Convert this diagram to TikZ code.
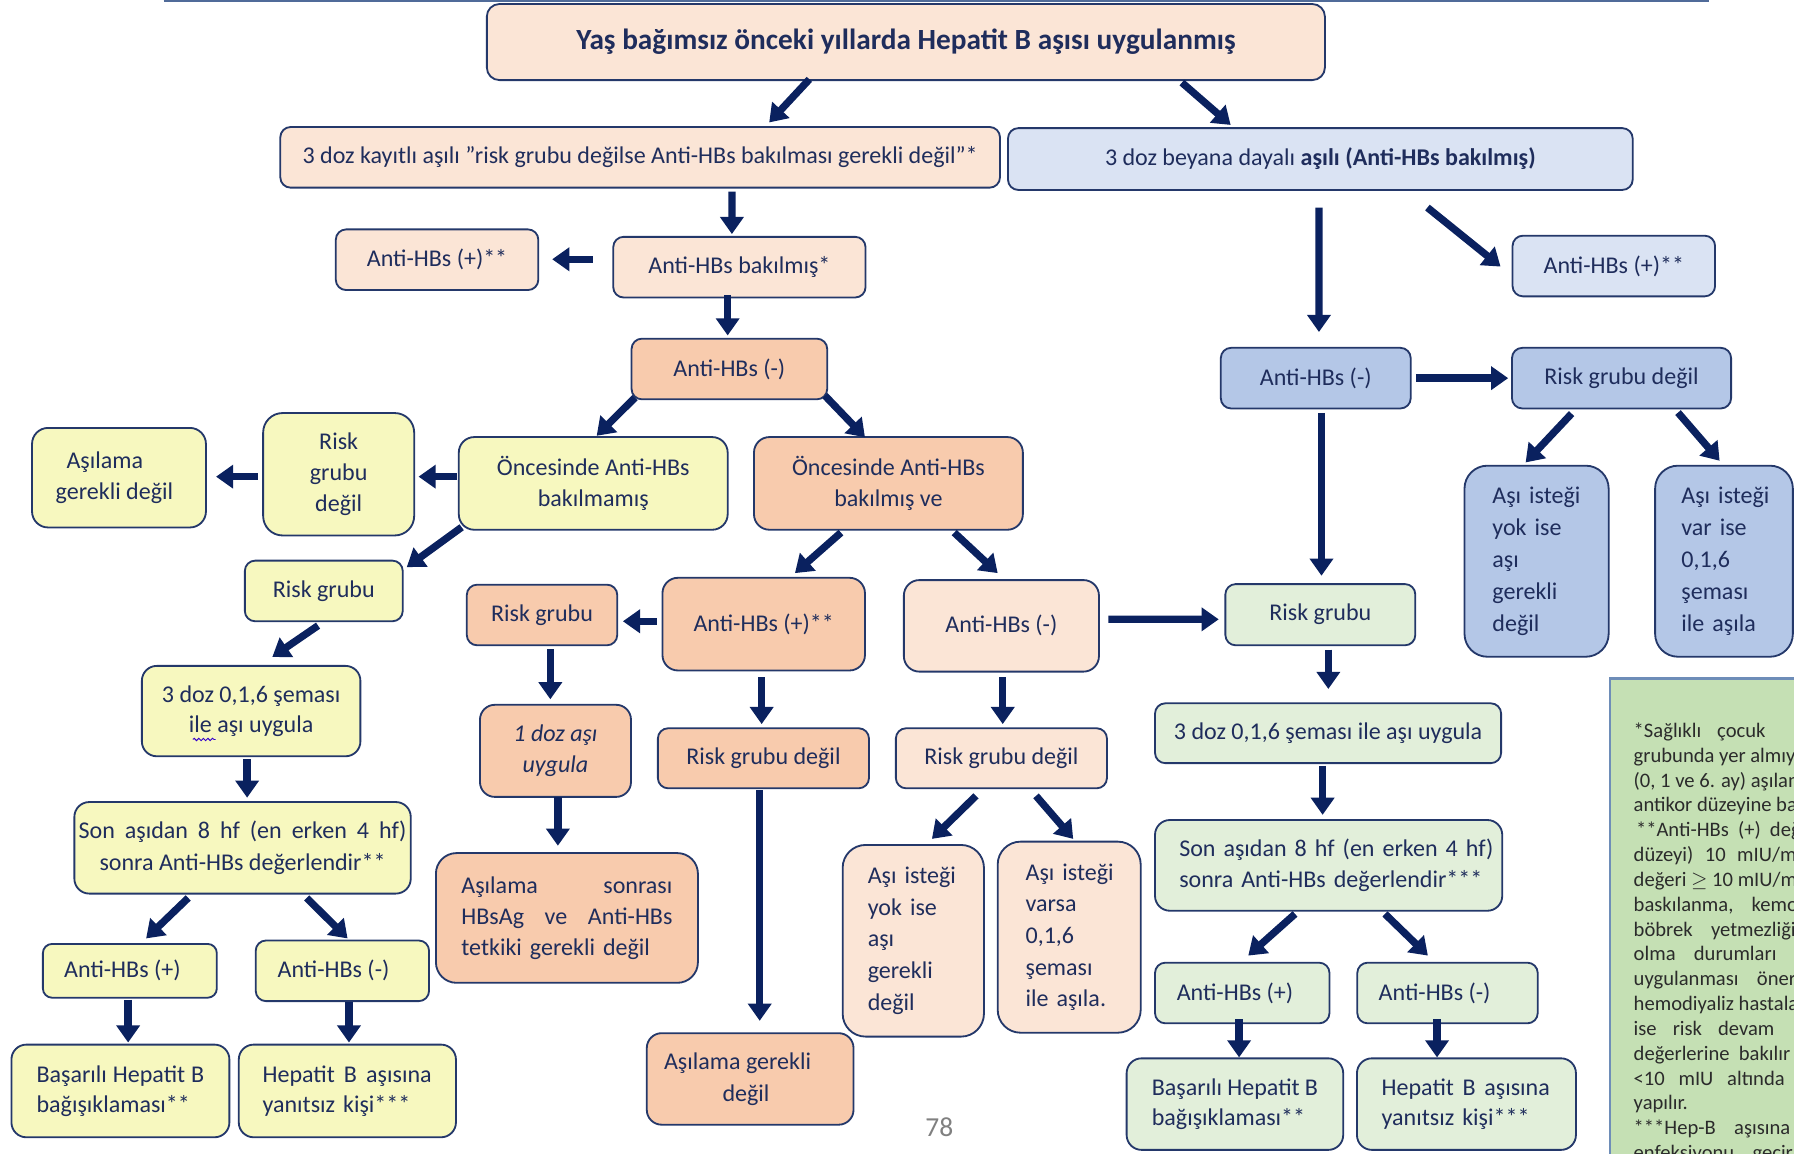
\documentclass[tikz,border=0pt]{standalone}
\usepackage{fontspec}
\setmainfont{Carlito}
\usetikzlibrary{arrows.meta,calc,decorations.pathmorphing}
\definecolor{bcol}{HTML}{24386A}
\definecolor{acol}{HTML}{0A215F}
\definecolor{tcol}{HTML}{1F2D5C}
\definecolor{salL}{HTML}{FBE5D6}
\definecolor{salD}{HTML}{F8CBAD}
\definecolor{yel}{HTML}{F7F8BF}
\definecolor{bluL}{HTML}{DAE3F3}
\definecolor{bluM}{HTML}{B4C7E7}
\definecolor{grnL}{HTML}{E2EFDA}
\definecolor{grnN}{HTML}{C5E0B4}
\definecolor{noteb}{HTML}{6E8DB8}
\definecolor{notet}{HTML}{2B2B2B}
\newcommand\fsz[1]{\fontsize{10.5pt}{#1}\selectfont}
\newcommand\myarr[4]{\draw[arr] ($(#1)+(#2)$) -- ($(#3)+(#4)$);}
\begin{document}
\begin{tikzpicture}[x=0.5pt,y=-0.5pt,
  box/.style={draw=bcol, line width=0.8pt, text=tcol, inner sep=0pt, align=center, font=\fsz{13.8pt}},
  lbox/.style={box, align=left},
  arr/.style={draw=acol, line width=3.2pt, -{Triangle[length=7.5pt,width=10pt]}},
  bx/.style n args={3}{minimum width=#1, minimum height=#2, rounded corners=#3},
  notefont/.style={font=\fontsize{9pt}{10.85pt}\selectfont, text=notet, inner sep=0pt, anchor=base west}
]
\useasboundingbox (0,0) rectangle (1568,1008);
\draw[line width=1.2pt, draw=noteb!60!bcol] (143,0.8) -- (1494,0.8);

% ---- top
\node[box, fill=salL, bx={366.25pt}{33.25pt}{5.5pt}, font=\fontsize{12.8pt}{15pt}\selectfont\bfseries] (T0) at (791.75,36.75) {Yaş bağımsız önceki yıllarda Hepatit B aşısı uygulanmış};
\node[box, fill=salL, bx={314.5pt}{26.5pt}{4.5pt}] (A) at (559.5,137.5) {3 doz kayıtlı aşılı ”risk grubu değilse Anti-HBs bakılması gerekli değil”*};
\node[box, fill=bluL, bx={273pt}{27pt}{4.5pt}] (B) at (1154,139) {3 doz beyana dayalı \textbf{aşılı (Anti-HBs bakılmış)}};

% ---- left/middle branch
\node[box, fill=salL, bx={110.25pt}{26.5pt}{4.5pt}] (C) at (646.25,233.5) {Anti-HBs bakılmış*};
\node[box, fill=salL, bx={88.5pt}{26.5pt}{4.5pt}] (D) at (382,227) {Anti-HBs (+)**};
\node[box, fill=salD, bx={85.5pt}{26.5pt}{4.5pt}] (E) at (637.5,322.5) {Anti-HBs (-)};
\node[box, fill=yel, bx={117.5pt}{40.5pt}{6.75pt}] (F) at (518.5,422.5) {Öncesinde Anti-HBs\\bakılmamış};
\node[box, fill=yel, bx={66pt}{53.5pt}{8.5pt}, font=\fsz{13.45pt}] (G) at (296,414.5) {Risk\\grubu\\değil};
\node[box, fill=yel, bx={76pt}{43.5pt}{7pt}] (H) at (104,417.5) {Aşılama\rule{12.4pt}{0pt}\\gerekli değil\rule{4pt}{0pt}};
\node[box, fill=salD, bx={117.5pt}{40.5pt}{6.75pt}] (P) at (776.5,422.5) {Öncesinde Anti-HBs\\bakılmış ve};
\node[box, fill=yel, bx={69pt}{26.5pt}{4.5pt}] (I) at (283,516.5) {Risk grubu};
\node[box, fill=salD, bx={65.75pt}{26.5pt}{4.5pt}] (R) at (473.75,537.5) {Risk grubu};
\node[box, fill=salD, bx={88.5pt}{40.5pt}{6.75pt}] (Q) at (667.5,545.5) {Anti-HBs (+)**};
\node[box, fill=salL, bx={85.25pt}{40pt}{6.75pt}] (W) at (875.25,547) {Anti-HBs (-)};
\node[box, fill=yel, bx={95.5pt}{39.5pt}{6.5pt}, font=\fsz{13.1pt}] (J) at (219.5,621.5) {3 doz 0,1,6 şeması\\ile aşı uygula};
\node[box, fill=salD, bx={66pt}{40.25pt}{6.5pt}, font=\fsz{13.8pt}\itshape] (S) at (485.5,656.25) {1 doz aşı\\uygula};
\node[box, fill=salD, bx={92.25pt}{26.25pt}{4.5pt}] (U) at (667.25,662.75) {Risk grubu değil};
\node[box, fill=salL, bx={92.25pt}{26.25pt}{4.5pt}] (X) at (875.25,662.75) {Risk grubu değil};
\node[box, fill=yel, bx={147pt}{40pt}{6.5pt}] (K) at (212,741) {\makebox[143.3pt][s]{Son\hfill aşıdan\hfill 8\hfill hf\hfill (en\hfill erken\hfill 4\hfill hf)}\\sonra Anti-HBs değerlendir**};
\node[lbox, fill=salL, bx={61.75pt}{83.75pt}{10pt}, inner xsep=11pt, text width=39.75pt] (Y1) at (798.25,822.25) {\mbox{Aşı isteği}\\yok ise\\aşı\\gerekli\\değil};
\node[lbox, fill=salL, bx={62.5pt}{83.5pt}{10pt}, inner xsep=12.2pt, text width=38.1pt] (Y2) at (934.5,819.1) {\mbox{Aşı isteği}\\varsa\\0,1,6\\şeması\\ile aşıla.};
\node[lbox, fill=salD, bx={114.5pt}{56.7pt}{9pt}, inner xsep=11.15pt, text width=92.2pt, font=\fsz{13.6pt}] (T) at (495.5,802.3) {\makebox[92.2pt][s]{Aşılama\hfill sonrası}\\\makebox[92.2pt][s]{HBsAg\hfill ve\hfill Anti-HBs}\\tetkiki gerekli değil};
\node[box, fill=yel, bx={76pt}{23.5pt}{4pt}] (L) at (113.5,848.5) {Anti-HBs (+)\rule{6.5pt}{0pt}};
\node[box, fill=yel, bx={75.75pt}{26.5pt}{4.5pt}] (M) at (299.25,848.5) {Anti-HBs (-)\rule{7.75pt}{0pt}};
\node[lbox, fill=yel, bx={95.25pt}{40.5pt}{6.5pt}, inner xsep=11pt, text width=73.25pt, font=\fsz{13.1pt}] (N) at (105.25,953.5) {\makebox[73.25pt][s]{Başarılı\hfill Hepatit\hfill B}\\bağışıklaması**};
\node[lbox, fill=yel, bx={94.9pt}{40.5pt}{6.5pt}, inner xsep=10.4pt, text width=74.1pt, font=\fsz{13.1pt}] (O) at (303.6,953.5) {\makebox[73.9pt][s]{Hepatit\hfill B\hfill aşısına}\\yanıtsız kişi***};
\node[box, fill=salD, bx={90.35pt}{40pt}{6.5pt}] (V) at (655.65,943) {Aşılama gerekli\rule{11pt}{0pt}\\değil\rule{3.6pt}{0pt}};

% ---- right branch
\node[box, fill=bluL, bx={88.5pt}{26.5pt}{4.5pt}] (AA) at (1410.5,232.5) {Anti-HBs (+)**};
\node[box, fill=bluM, bx={83pt}{26.5pt}{4.5pt}] (Z) at (1150,330.5) {Anti-HBs (-)};
\node[box, fill=bluM, bx={95.75pt}{26.5pt}{4.5pt}] (AB) at (1417.25,330.5) {Risk grubu değil};
\node[lbox, fill=bluM, bx={63pt}{83.5pt}{10pt}, inner xsep=12.2pt, text width=38.6pt, font=\fsz{14pt}] (AC) at (1343,490.5) {\mbox{Aşı isteği}\\yok ise\\aşı\\gerekli\\değil};
\node[lbox, fill=bluM, bx={60.2pt}{83.5pt}{10pt}, inner xsep=11.5pt, text width=37.2pt, font=\fsz{14pt}] (AD) at (1506.8,490.5) {\mbox{Aşı isteği}\\var ise\\0,1,6\\şeması\\ile aşıla};
\node[box, fill=grnL, bx={83pt}{26.75pt}{4.5pt}] (AE) at (1154,537.25) {Risk grubu};
\node[box, fill=grnL, bx={151.25pt}{26.15pt}{4.5pt}] (AF) at (1160.75,640.85) {3 doz 0,1,6 şeması ile aşı uygula};
\node[lbox, fill=grnL, bx={151.75pt}{39.65pt}{6.5pt}, inner xsep=10.6pt, text width=130.55pt] (AG) at (1161.25,756.35) {\mbox{Son aşıdan 8 hf (en erken 4 hf)}\\\mbox{sonra Anti-HBs değerlendir***}};
\node[box, fill=grnL, bx={76.25pt}{26.5pt}{4.5pt}] (AH) at (1085.75,867.9) {Anti-HBs (+)\rule{6.35pt}{0pt}};
\node[box, fill=grnL, bx={78.85pt}{26.5pt}{4.5pt}] (AI) at (1265.15,867.9) {Anti-HBs (-)\rule{11.25pt}{0pt}};
\node[lbox, fill=grnL, bx={94.65pt}{40pt}{6.5pt}, inner xsep=11pt, text width=72.65pt, font=\fsz{13.1pt}] (AJ) at (1079.35,965) {\makebox[72.65pt][s]{Başarılı\hfill Hepatit\hfill B}\\bağışıklaması**};
\node[lbox, fill=grnL, bx={95.7pt}{40pt}{6.5pt}, inner xsep=10.8pt, text width=74.1pt, font=\fsz{13.1pt}] (AK) at (1281.7,965) {\makebox[73.5pt][s]{Hepatit\hfill B\hfill aşısına}\\yanıtsız kişi***};

% ---- arrows
\myarr{T0.south}{-84.35,-1.5}{A.north}{112.8,-3.2}
\myarr{T0.south}{241.25,1.4}{B.north}{-78.4,-2}
\myarr{A.south}{80.2,2.7}{C.north}{-6.55,-1.6}
\myarr{C.west}{-17,-6.9}{D.east}{11.3,-0.4}
\myarr{C.south}{-10.25,-3}{E.north}{-1.5,-2}
\myarr{E.south}{-82.5,-2.3}{F.north}{3,-0.3}
\myarr{E.south}{83.5,-4}{P.north}{-20.5,1}
\myarr{F.west}{-1,-5.9}{G.east}{3,2.1}
\myarr{G.west}{-4,2.1}{H.east}{8,-0.9}
\myarr{F.south}{-115,-3}{I.north}{72.5,6.5}
\myarr{I.south}{-5,3}{J.north}{18.5,-7}
\myarr{J.south}{-3.5,2}{K.north}{4,-3}
\myarr{K.south}{-47.5,3}{L.north}{14.2,-4}
\myarr{K.south}{56,3}{M.north}{4.55,-1}
\myarr{L.south}{-1.5,1}{N.north}{6.75,-1}
\myarr{M.south}{5.75,0}{O.north}{1.4,-1}
\myarr{P.south}{-41.5,1.7}{Q.north}{27.3,-3.3}
\myarr{P.south}{57.5,1.7}{W.north}{-3.25,-5.3}
\myarr{Q.west}{-4,-2.5}{R.east}{4.1,5.5}
\myarr{R.south}{7.25,2.6}{S.north}{-4.5,-4}
\myarr{S.south}{2.1,-0.5}{T.north}{-7.9,-5.6}
\myarr{Q.south}{-1.8,5}{U.north}{-1.55,-2.8}
\myarr{U.south}{-3.25,1}{V.north}{8.35,-10}
\myarr{W.south}{1.15,4}{X.north}{1.15,-2.8}
\myarr{W.east}{7.5,-5.7}{AE.west}{-5,4.05}
\myarr{X.south}{-22.25,5.8}{Y1.north}{16.25,-4.5}
\myarr{X.south}{30.25,5.8}{Y2.north}{3.5,-1.6}
\myarr{B.south}{-1.2,14.6}{Z.north}{2.8,-13}
\myarr{B.south}{93.6,14.6}{AA.west}{-9.7,0.5}
\myarr{Z.east}{3.7,0}{AB.west}{-2.5,0}
\myarr{Z.south}{5,3}{AE.north}{1,-6.5}
\myarr{AB.south}{-43.65,3.7}{AC.north}{-9.6,-2}
\myarr{AB.south}{49.35,2.8}{AD.north}{-3.8,-3.5}
\myarr{AE.south}{7,3}{AF.north}{0.25,-11.7}
\myarr{AF.south}{-4.75,1.6}{AG.north}{-5.25,-3.7}
\myarr{AG.south}{-29.35,2}{AH.north}{5.25,-5.4}
\myarr{AG.south}{49.25,2}{AI.north}{-17.15,-5.4}
\myarr{AH.south}{-2.75,-4.4}{AJ.north}{3.65,0}
\myarr{AI.south}{-9.15,-4.4}{AK.north}{-25.7,0}

% spell-check squiggle under "ile"
\draw[decorate, decoration={snake, amplitude=0.5pt, segment length=2pt}, draw=blue!60!violet, line width=0.4pt] ($(J.south)+(-51,-15.5)$) -- ++(20,0);

% page number
\node[font=\fontsize{12pt}{14pt}\selectfont, text=black!50, inner sep=0pt] (pg) at (821,985) {78};

% ---- footnote box (cut by the page edge)
\begin{scope}
\clip (0,0) rectangle (1568,1008);
\draw[draw=noteb, line width=1pt, fill=grnN] (1407,593) rectangle (1700,1100);
\node[notefont] (n1) at (1427.5,644.5) {*Sağlıklı\hspace{7pt}çocuk};
\node[notefont] (n2) at (1427.5,666.2) {grubunda yer almıyor};
\node[notefont] (n3) at (1427.5,687.9) {(0, 1 ve 6. ay) aşılama};
\node[notefont] (n4) at (1427.5,709.6) {antikor düzeyine bakılmasına};
\node[notefont] (n5) at (1427.5,731.3) {\hspace{1pt}**Anti-HBs\hspace{4pt}(+)\hspace{4pt}değeri};
\node[notefont] (n6) at (1427.5,753) {düzeyi)\hspace{5pt}10\hspace{5pt}mIU/ml};
\node[notefont] (n7) at (1427.5,774.7) {değeri $\geq$ 10 mIU/ml};
\node[notefont] (n8) at (1427.5,796.4) {baskılanma,\hspace{8pt}kemoterapi};
\node[notefont] (n9) at (1427.5,818.1) {böbrek\hspace{8pt}yetmezliği};
\node[notefont] (n10) at (1427.5,839.8) {olma\hspace{8pt}durumları};
\node[notefont] (n11) at (1427.5,861.5) {uygulanması\hspace{8pt}önerilir};
\node[notefont] (n12) at (1427.5,883.2) {hemodiyaliz hastalarında};
\node[notefont] (n13) at (1427.5,904.9) {ise\hspace{7pt}risk\hspace{7pt}devam};
\node[notefont] (n14) at (1427.5,926.6) {değerlerine\hspace{4pt}bakılır};
\node[notefont] (n15) at (1427.5,948.3) {<10\hspace{6pt}mIU\hspace{6pt}altında};
\node[notefont] (n16) at (1427.5,970) {yapılır.};
\node[notefont] (n17) at (1427.5,991.7) {***Hep-B\hspace{8pt}aşısına};
\node[notefont] (n18) at (1427.5,1013.4) {enfeksiyonu\hspace{8pt}geçirmiş};
\end{scope}
\end{tikzpicture}
\end{document}
